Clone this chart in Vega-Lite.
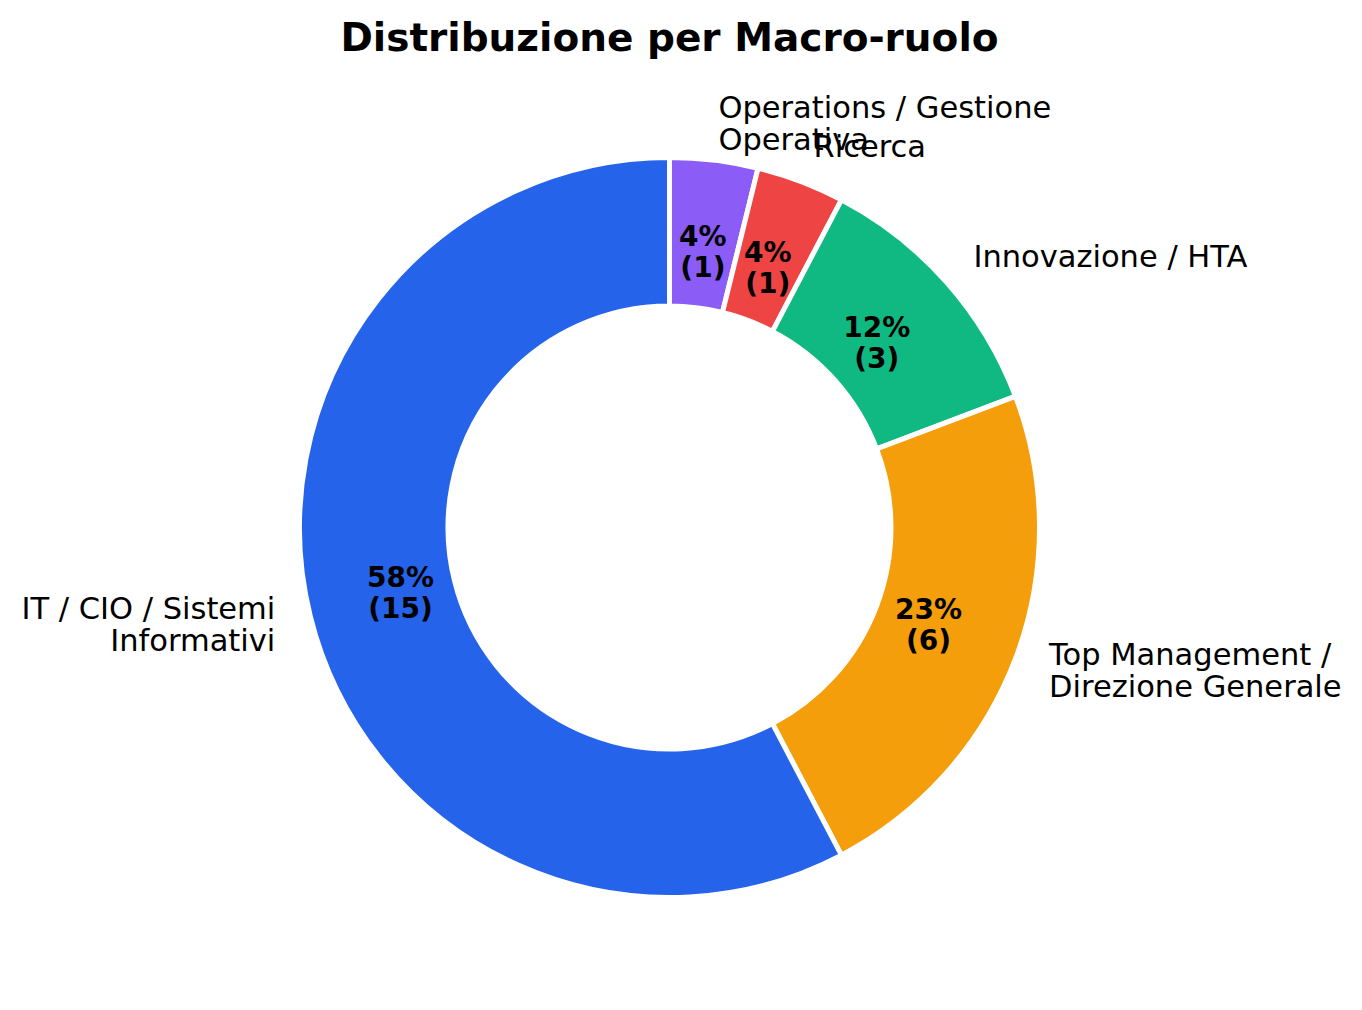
{
  "$schema": "https://vega.github.io/schema/vega-lite/v6.json",
  "width": 1339,
  "height": 935,
  "autosize": "none",
  "padding": {"top": 60, "left": 0, "right": 23, "bottom": 15},
  "background": "white",
  "title": {"text": "Distribuzione per Macro-ruolo", "font": "DejaVu Sans", "fontSize": 39, "fontWeight": "bold", "anchor": "middle", "color": "black", "dy": 3},
  "config": {"view": {"stroke": null}},
  "data": {"values": [
    {"ruolo": "Operations / Gestione\nOperativa", "n": 1, "ord": 1, "pct": "4%\n(1)"},
    {"ruolo": "Ricerca", "n": 1, "ord": 2, "pct": "4%\n(1)"},
    {"ruolo": "Innovazione / HTA", "n": 3, "ord": 3, "pct": "12%\n(3)"},
    {"ruolo": "Top Management /\nDirezione Generale", "n": 6, "ord": 4, "pct": "23%\n(6)"},
    {"ruolo": "IT / CIO / Sistemi\nInformativi", "n": 15, "ord": 5, "pct": "58%\n(15)"}
  ]},
  "encoding": {
    "theta": {"field": "n", "type": "quantitative", "stack": true},
    "order": {"field": "ord", "type": "quantitative"}
  },
  "layer": [
    {
      "mark": {"type": "arc", "outerRadius": 370, "innerRadius": 221.5, "stroke": "white", "strokeWidth": 5},
      "encoding": {
        "color": {"field": "ruolo", "type": "nominal", "legend": null,
          "scale": {"domain": ["Operations / Gestione\nOperativa", "Ricerca", "Innovazione / HTA", "Top Management /\nDirezione Generale", "IT / CIO / Sistemi\nInformativi"],
                    "range": ["#8B5CF6", "#EF4444", "#10B981", "#F59E0B", "#2563EB"]}}
      }
    },
    {
      "mark": {"type": "text", "radius": 277, "font": "DejaVu Sans", "fontSize": 28, "fontWeight": "bold", "lineBreak": "\n", "lineHeight": 31, "align": "center", "baseline": "middle", "color": "black", "dy": -15},
      "encoding": {"text": {"field": "pct"}}
    },
    {
      "mark": {"type": "text", "radius": 406, "font": "DejaVu Sans", "fontSize": 30.5, "lineBreak": "\n", "lineHeight": 32, "align": {"expr": "datum.ord == 5 ? 'right' : 'left'"}, "baseline": "middle", "color": "black", "dy": {"expr": "indexof(datum.ruolo, '\\n') >= 0 ? -15 : 0"}},
      "encoding": {"text": {"field": "ruolo"}}
    }
  ]
}
